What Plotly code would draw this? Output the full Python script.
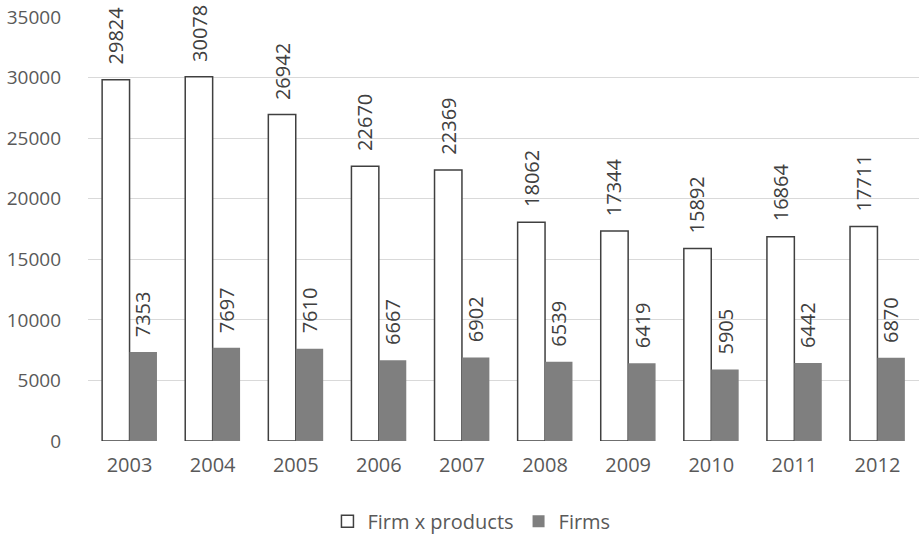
import plotly.graph_objects as go

years = ["2003", "2004", "2005", "2006", "2007", "2008", "2009", "2010", "2011", "2012"]
firm_x_products = [29824, 30078, 26942, 22670, 22369, 18062, 17344, 15892, 16864, 17711]
firms = [7353, 7697, 7610, 6667, 6902, 6539, 6419, 5905, 6442, 6870]

FONT = "Open Sans"
TXT = "#404040"
TICK = "#595959"
FS = 20

fig = go.Figure()
fig.add_trace(go.Bar(
    x=years, y=firm_x_products, name="Firm x products",
    marker=dict(color="white", line=dict(color="#404040", width=1.5)),
))
fig.add_trace(go.Bar(
    x=years, y=firms, name="Firms",
    marker=dict(color="#7f7f7f", line=dict(width=0)),
))

annotations = []
for i, y in enumerate(years):
    for val, shift in ((firm_x_products[i], -13.8), (firms[i], 13.8)):
        annotations.append(dict(
            x=i, y=val, xref="x", yref="y", text=str(val), showarrow=False,
            textangle=-90, xanchor="center", yanchor="bottom",
            xshift=shift, yshift=13,
            font=dict(family=FONT, size=FS, color=TXT),
        ))

fig.update_layout(
    width=919, height=538,
    margin=dict(l=88, r=0, t=17, b=97),
    paper_bgcolor="white", plot_bgcolor="white",
    barmode="group", bargap=0.34, bargroupgap=0,
    font=dict(family=FONT, size=FS, color=TICK),
    showlegend=True,
    legend=dict(orientation="h", xref="container", yref="container",
                x=0.513, xanchor="center", y=0.031, yanchor="middle",
                font=dict(family=FONT, size=FS, color=TICK),
                itemwidth=30, traceorder="normal"),
    annotations=annotations,
    xaxis=dict(type="category", range=[-0.5, len(years) - 0.5], showgrid=False,
               showline=False, zeroline=False, ticks="",
               ticklabelstandoff=10, tickfont=dict(size=FS, color=TICK)),
    yaxis=dict(range=[0, 35000], dtick=5000, showgrid=True, gridcolor="#d9d9d9",
               gridwidth=1, zeroline=False, showline=False, ticks="",
               ticklabelstandoff=26, tickformat="d",
               tickfont=dict(size=19, color=TICK)),
)

fig.write_html("out.html")
